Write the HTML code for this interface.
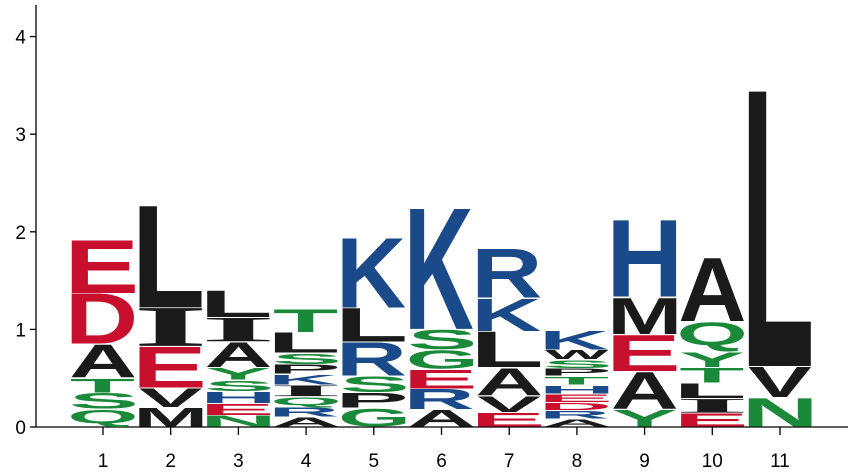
<!DOCTYPE html>
<html><head><meta charset="utf-8"><style>
body{margin:0;background:#fff}
svg{display:block}
</style></head><body>
<svg id="chart" width="850" height="472" xmlns="http://www.w3.org/2000/svg" font-family="Liberation Sans, sans-serif"></svg>
<script>
// positions 1..11, stacks listed bottom -> top as [letter, bits]
const positions = ["1","2","3","4","5","6","7","8","9","10","11"];
const yTicks = [0,1,2,3,4];
const stacks = [
 [["Q",0.18],["S",0.17],["T",0.15],["A",0.35],["D",0.52],["E",0.55]],
 [["M",0.2],["V",0.2],["E",0.42],["I",0.4],["L",1.05]],
 [["N",0.12],["E",0.12],["H",0.12],["S",0.12],["Y",0.13],["A",0.26],["I",0.25],["L",0.28]],
 [["A",0.1],["R",0.1],["Q",0.11],["I",0.12],["K",0.11],["P",0.1],["S",0.12],["L",0.21],["T",0.24]],
 [["G",0.19],["P",0.16],["S",0.17],["R",0.35],["L",0.35],["K",0.73]],
 [["A",0.18],["R",0.21],["E",0.2],["G",0.2],["S",0.21],["K",1.26]],
 [["E",0.15],["V",0.17],["A",0.29],["L",0.37],["K",0.34],["R",0.51]],
 [["A",0.08],["R",0.09],["D",0.08],["E",0.09],["H",0.09],["T",0.09],["P",0.08],["S",0.09],["W",0.1],["K",0.2]],
 [["Y",0.18],["A",0.39],["E",0.38],["M",0.38],["H",0.8]],
 [["E",0.14],["I",0.15],["L",0.16],["T",0.16],["Y",0.16],["Q",0.31],["A",0.66]],
 [["N",0.3],["V",0.32],["L",2.83]]
];
const colorOf = {A:"#1a1a1a",C:"#1a8a3a",D:"#c8102e",E:"#c8102e",F:"#1a1a1a",G:"#1a8a3a",H:"#1a4a8a",I:"#1a1a1a",K:"#1a4a8a",L:"#1a1a1a",M:"#1a1a1a",N:"#1a8a3a",P:"#1a1a1a",Q:"#1a8a3a",R:"#1a4a8a",S:"#1a8a3a",T:"#1a8a3a",V:"#1a1a1a",W:"#1a1a1a",Y:"#1a8a3a"};

const svg = document.getElementById('chart');
const NS = "http://www.w3.org/2000/svg";
const x0 = 103, dx = 67.7, colW = 64, y0 = 427, pxPerBit = 97.6;
const xScale = i => x0 + i*dx;
const yScale = v => y0 - v*pxPerBit;
function mk(tag, attrs){const e=document.createElementNS(NS,tag);for(const k in attrs)e.setAttribute(k,attrs[k]);svg.appendChild(e);return e;}

// axes
const ya = mk('line',{x1:36,y1:5,x2:36,y2:y0,stroke:'#000','stroke-width':1.3});


const xa = mk('line',{x1:36,y1:y0,x2:848,y2:y0,stroke:'#000','stroke-width':1.3});


yTicks.forEach(t=>{
  const tk = mk('line',{x1:30,y1:yScale(t),x2:36,y2:yScale(t),stroke:'#000','stroke-width':1.3});
  
  
  const lb = mk('text',{x:26,y:yScale(t)+7,'font-size':19,'text-anchor':'end',fill:'#000'});
  lb.textContent = t;
  
  
});
positions.forEach((p,i)=>{
  const tk = mk('line',{x1:xScale(i),y1:y0,x2:xScale(i),y2:y0+8,stroke:'#000','stroke-width':1.3});
  
  
  const lb = mk('text',{x:xScale(i),y:467,'font-size':19,'text-anchor':'middle',fill:'#000'});
  lb.textContent = p;
  
  
});

// glyph ink measurement
const cv = document.createElement('canvas');
const ctx = cv.getContext('2d');
const fs = 100;
function fontFor(L){return L==='I' ? 'Liberation Serif' : 'Liberation Sans';}
function measure(L){
  ctx.font = 'bold '+fs+'px "'+fontFor(L)+'"';
  const m = ctx.measureText(L);
  return {l:m.actualBoundingBoxLeft, r:m.actualBoundingBoxRight, a:m.actualBoundingBoxAscent, d:m.actualBoundingBoxDescent};
}

// letters
stacks.forEach((stack,i)=>{
  let acc = 0;
  const left = xScale(i) - colW/2;
  stack.forEach(([L,v])=>{
    const bottom = yScale(acc), h = v*pxPerBit;
    acc += v;
    const m = measure(L);
    const inkW = m.l + m.r, inkH = m.a + m.d;
    const hh = Math.max(h-1, 0.5);
    const t = mk('text',{'font-size':fs,'font-weight':'bold','font-family':fontFor(L),fill:colorOf[L],
      x:0,y:0,
      transform:`translate(${left},${bottom-0.5}) scale(${colW/inkW},${hh/inkH}) translate(${m.l},${-m.d})`});
    t.textContent = L;
    
    
  });
});
</script>
</body></html>
